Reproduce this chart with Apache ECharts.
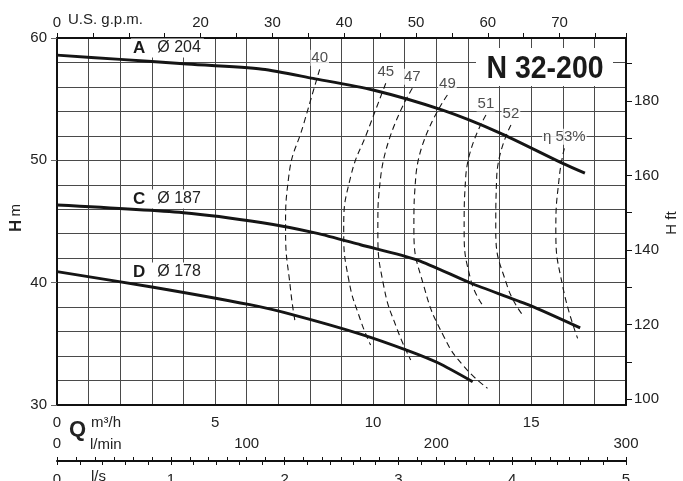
<!DOCTYPE html>
<html><head><meta charset="utf-8">
<script src="https://cdn.jsdelivr.net/npm/echarts@6/dist/echarts.min.js"></script>
<style>html,body{margin:0;padding:0;background:#fff}#c{width:683px;height:481px}</style>
</head><body><div id="c"></div>
<script>
// Pump head curves (Q in m3/h, H in m)
const curveA = [[0,58.6],[2,58.25],[4,57.9],[6.5,57.45],[8.1,56.7],[10,55.75],[12.2,54.1],[14,52.25],[16,49.75],[16.7,48.95]];
const curveC = [[0,46.35],[4,45.72],[6.5,44.9],[8.2,44.05],[9.6,43.1],[11.4,41.85],[13.1,39.95],[14.9,38.2],[16.55,36.3]];
const curveD = [[0,40.9],[3,39.65],[6.1,38.2],[7.5,37.35],[9.6,35.8],[11.1,34.45],[12.05,33.45],[13.15,31.9]];
const curveNames = ['A','C','D'];
const curveDiam = ['Ø 204','Ø 187','Ø 178'];
// Iso-efficiency curves (top point first)
const eff40 = [[8.31,57.44],[7.81,53.03],[7.33,48.66],[7.23,44.31],[7.39,39.4],[7.54,36.68]];
const eff45 = [[10.40,56.30],[9.84,52.48],[9.29,48.66],[9.07,44.31],[9.23,40.22],[9.60,36.95],[9.92,34.90]];
const eff47 = [[11.24,55.89],[10.24,48.66],[10.15,44.31],[10.34,39.67],[10.77,36.13],[11.19,33.68]];
const eff49 = [[12.35,55.34],[11.35,48.66],[11.29,44.31],[11.61,39.67],[12.24,35.58],[12.88,33.13],[13.62,31.37]];
const eff51 = [[13.57,53.71],[12.93,48.66],[12.88,44.31],[13.09,40.22],[13.46,38.17]];
const eff52 = [[14.36,52.89],[13.91,48.66],[13.88,44.31],[14.25,39.67],[14.73,37.36]];
const eff53 = [[16.05,50.98],[15.89,48.66],[15.78,44.31],[16.00,39.67],[16.47,35.45]];
const effLabels = ['40','45','47','49','51','52','η 53%'];
// Axis tick labels
const qLabels = [0,5,10,15];
const gpmLabels = [0,20,30,40,50,60,70];
const lminLabels = [0,100,200,300];
const lsLabels = [0,1,2,3,4,5];
const hLabels = [30,40,50,60];
const ftLabels = [100,120,140,160,180];
const ftTicks = [100,110,120,130,140,150,160,170,180,190];

const GPM = 4.402867, FT = 3.28084, LMIN = 1000/60, LS = 1/3.6;
const QMAX = 18, HMIN = 30, HMAX = 60;
const FF = "'Liberation Sans', Arial, sans-serif";
const near = (v, arr) => arr.some(a => Math.abs(a - v) < 1e-6);
const lbl = {fontFamily: FF, fontSize: 15, color: '#222'};

const chart = echarts.init(document.getElementById('c'), null, {renderer: 'canvas'});
const effs = [eff40, eff45, eff47, eff49, eff51, eff52, eff53];
const series = [];
[curveA, curveC, curveD].forEach((d, i) => series.push({
  type: 'line', name: curveNames[i], data: d, smooth: 0.25, symbol: 'none', z: 5,
  lineStyle: {color: '#151515', width: 2.9}
}));
effs.forEach((d, i) => series.push({
  type: 'line', name: effLabels[i], data: d, smooth: 0.5, symbol: 'none', z: 4,
  lineStyle: {color: '#151515', width: 1.1, type: [6, 4]}
}));
series.push({
  type: 'scatter', symbolSize: 1, itemStyle: {color: 'rgba(0,0,0,0)'}, z: 6,
  data: effs.map((d, i) => ({value: d[0], name: effLabels[i]})),
  label: {show: true, position: 'top', distance: 3, formatter: p => p.name,
    fontFamily: FF, fontSize: 15, color: '#222', backgroundColor: '#fff', padding: [1, 1, 0, 1]}
});

const labelTexts = curveNames.map((n, i) => '{b|' + n + '}{r|' + curveDiam[i] + '}');
const labelY = [48, 199, 272];

chart.setOption({
  animation: false,
  grid: {left: 57, right: 57, top: 38, bottom: 76, containLabel: false, outerBoundsMode: 'none'},
  xAxis: [
    {type: 'value', position: 'bottom', min: 0, max: QMAX, interval: 1,
      axisLine: {show: true, onZero: false, lineStyle: {color: '#111', width: 2}},
      axisTick: {show: false},
      axisLabel: Object.assign({margin: 10, formatter: v => near(v, qLabels) ? String(v) : ''}, lbl),
      splitLine: {show: true, lineStyle: {color: '#4a4a4a', width: 1}}},
    {type: 'value', position: 'top', min: 0, max: QMAX * GPM, interval: 5,
      axisLine: {show: true, onZero: false, lineStyle: {color: '#111', width: 2}},
      axisTick: {show: true, inside: false, length: 5, lineStyle: {color: '#111', width: 1}},
      axisLabel: Object.assign({margin: 8, formatter: v => near(v, gpmLabels) ? String(v) : ''}, lbl),
      splitLine: {show: false}},
    {type: 'value', position: 'bottom', offset: 56, min: 0, max: QMAX * LMIN, interval: 10,
      axisLine: {show: true, onZero: false, lineStyle: {color: '#111', width: 2}},
      axisTick: {show: true, inside: true, length: 4, lineStyle: {color: '#111', width: 1}},
      axisLabel: Object.assign({inside: true, margin: 10, formatter: v => near(v, lminLabels) ? String(v) : ''}, lbl),
      splitLine: {show: false}},
    {type: 'value', position: 'bottom', offset: 56, min: 0, max: QMAX * LS, interval: 0.2,
      axisLine: {show: false, onZero: false},
      axisTick: {show: true, inside: false, length: 4, lineStyle: {color: '#111', width: 1}},
      axisLabel: Object.assign({margin: 11, formatter: v => near(v, lsLabels) ? String(Math.round(v)) : ''}, lbl),
      splitLine: {show: false}}
  ],
  yAxis: [
    {type: 'value', position: 'left', min: HMIN, max: HMAX, interval: 2,
      axisLine: {show: true, onZero: false, lineStyle: {color: '#111', width: 2}},
      axisTick: {show: false},
      axisLabel: Object.assign({margin: 10, formatter: v => near(v, hLabels) ? String(v) : ''}, lbl),
      splitLine: {show: true, lineStyle: {color: '#4a4a4a', width: 1}}},
    {type: 'value', position: 'left', min: HMIN, max: HMAX, interval: 10,
      axisLine: {show: false}, axisTick: {show: true, length: 6, lineStyle: {color: '#666', width: 1}},
      axisLabel: {show: false}, splitLine: {show: false}},
    {type: 'value', position: 'right', min: HMIN * FT, max: HMAX * FT,
      axisLine: {show: true, onZero: false, lineStyle: {color: '#111', width: 2}},
      axisTick: {show: true, length: 6, customValues: ftTicks, lineStyle: {color: '#111', width: 1}},
      axisLabel: Object.assign({margin: 8, customValues: ftLabels}, lbl),
      splitLine: {show: false}}
  ],
  series: series,
  graphic: [
    {type: 'text', x: 68, y: 20, z: 100, style: {text: 'U.S. g.p.m.', font: '15px ' + FF, fill: '#222', verticalAlign: 'middle'}},
    {type: 'text', x: 69, y: 430, z: 100, style: {text: 'Q', font: 'bold 22px ' + FF, fill: '#222', verticalAlign: 'middle'}},
    {type: 'text', x: 91, y: 423, z: 100, style: {text: 'm³/h', font: '15px ' + FF, fill: '#222', verticalAlign: 'middle'}},
    {type: 'text', x: 90, y: 445, z: 100, style: {text: 'l/min', font: '15px ' + FF, fill: '#222', verticalAlign: 'middle'}},
    {type: 'text', x: 91, y: 477, z: 100, style: {text: 'l/s', font: '15px ' + FF, fill: '#222', verticalAlign: 'middle'}},
    {type: 'text', x: 16, y: 218, z: 100, rotation: Math.PI / 2, style: {
      text: '{b|H} {r|m}', align: 'center', verticalAlign: 'middle',
      rich: {b: {font: 'bold 17px ' + FF, fill: '#222'}, r: {font: '15px ' + FF, fill: '#222'}}}},
    {type: 'text', x: 672, y: 223, z: 100, rotation: Math.PI / 2, style: {
      text: 'H ft', font: '15px ' + FF, fill: '#222', align: 'center', verticalAlign: 'middle'}},
    {type: 'rect', z: 100, shape: {x: 476, y: 48, width: 137, height: 38}, style: {fill: '#fff'}},
    {type: 'text', x: 545, y: 69, z: 101, scaleX: 0.89, style: {
      text: 'N 32-200', font: 'bold 32px ' + FF, fill: '#1a1a1a', align: 'center', verticalAlign: 'middle'}}
  ].concat(labelTexts.map((t, i) => ({
    type: 'text', x: 131, y: labelY[i], z: 3, style: {
      text: t, verticalAlign: 'middle', backgroundColor: '#fff', padding: [1, 3, 1, 2],
      rich: {b: {font: 'bold 17px ' + FF, fill: '#1a1a1a', padding: [0, 12, 0, 0]}, r: {font: '16px ' + FF, fill: '#222'}}}
  })))
});
</script></body></html>
